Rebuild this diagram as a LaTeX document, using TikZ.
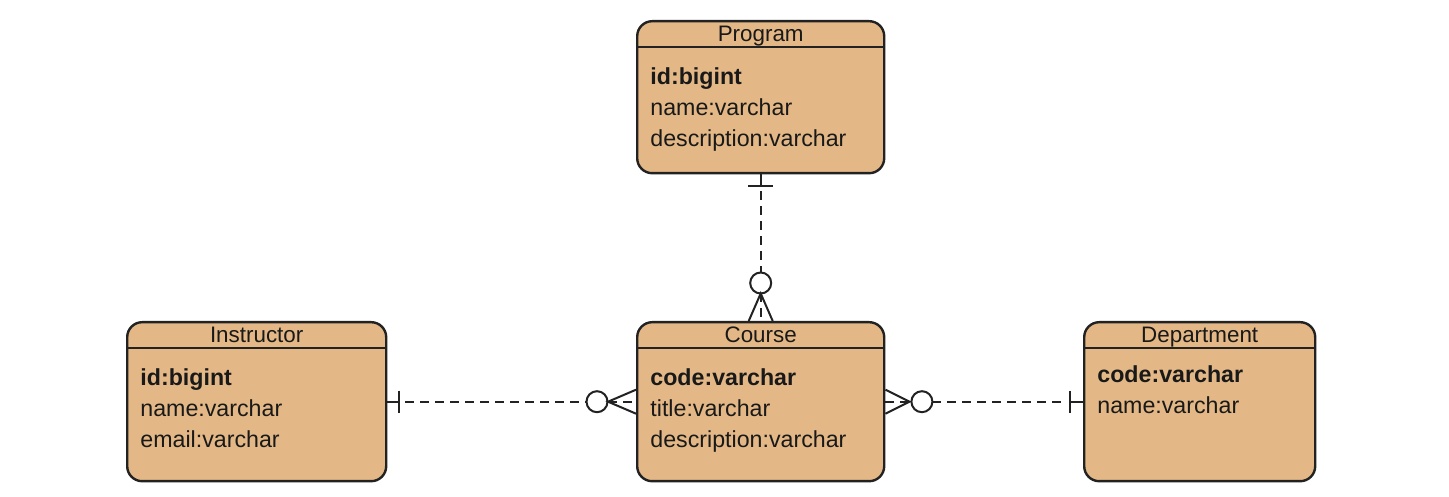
\documentclass[tikz,border=0pt]{standalone}
\usepackage{fontspec}
\setmainfont{Liberation Sans}
\usetikzlibrary{calc}
\definecolor{entfill}{RGB}{227,184,134}
\definecolor{entline}{RGB}{34,34,34}
\begin{document}
\begin{tikzpicture}[x=0.5pt,y=0.5pt,
  entity/.style={draw=entline, fill=entfill, line width=1.2pt, rounded corners=7.5pt, anchor=north west, inner sep=0pt},
  hdr/.style={draw=entline, line width=1.1pt},
  title/.style={anchor=base, inner sep=0pt, font=\fontsize{11.2}{13}\selectfont, text=black!90},
  attr/.style={anchor=base west, inner sep=0pt, font=\fontsize{11.6}{14}\selectfont, text=black!90},
  pk/.style={attr, font=\fontsize{11.6}{14}\selectfont\bfseries},
  conn/.style={draw=entline, line width=1pt},
  dashconn/.style={conn, dash pattern=on 4.5pt off 3pt}]
\useasboundingbox (0,0) rectangle (1449,497);

% entities
\node[entity, minimum width=123.5pt, minimum height=76pt] (prog) at (636,477) {};
\node[entity, minimum width=129.5pt, minimum height=79.5pt] (instr) at (126,176) {};
\node[entity, minimum width=123.5pt, minimum height=79.5pt] (course) at (636,176) {};
\node[entity, minimum width=115.5pt, minimum height=79.5pt] (dept) at (1083,176) {};

% header separators
\foreach \e in {prog,instr,course,dept}{
  \draw[hdr] ($(\e.north west)+(0,-27)$) -- ($(\e.north east)+(0,-27)$);
}

% titles
\node[title] (progT) at ($(prog.north)+(0,-21.5)$) {Program};
\node[title] (instrT) at ($(instr.north)+(0,-21.5)$) {Instructor};
\node[title] (courseT) at ($(course.north)+(0,-21.5)$) {Course};
\node[title] (deptT) at ($(dept.north)+(0,-21.5)$) {Department};

% attributes
\node[pk] (progA) at ($(prog.north west)+(14,-65)$) {id:bigint};
\node[attr] (progB) at ($(prog.north west)+(14,-96)$) {name:varchar};
\node[attr] (progC) at ($(prog.north west)+(14,-127)$) {description:varchar};

\node[pk] (instrA) at ($(instr.north west)+(14,-65)$) {id:bigint};
\node[attr] (instrB) at ($(instr.north west)+(14,-96)$) {name:varchar};
\node[attr] (instrC) at ($(instr.north west)+(14,-127)$) {email:varchar};

\node[pk] (courseA) at ($(course.north west)+(14,-65)$) {code:varchar};
\node[attr] (courseB) at ($(course.north west)+(14,-96)$) {title:varchar};
\node[attr] (courseC) at ($(course.north west)+(14,-127)$) {description:varchar};

\node[pk] (deptA) at ($(dept.north west)+(14,-62)$) {code:varchar};
\node[attr] (deptB) at ($(dept.north west)+(14,-93)$) {name:varchar};

% Program -- Course
\draw[conn] (prog.south) -- ($(prog.south)+(0,-12)$);
\draw[conn] ($(prog.south)+(-12.5,-12)$) -- ($(prog.south)+(12.5,-12)$);
\draw[dashconn] ($(prog.south)+(0,-17)$) -- ($(course.north)+(0,48.5)$);
\draw[conn] ($(course.north)+(0,38)$) circle[radius=10.5];
\draw[conn] ($(course.north)+(-12,0)$) -- ($(course.north)+(0,27.5)$) -- ($(course.north)+(12,0)$);
\draw[dashconn] ($(course.north)+(0,27.5)$) -- (course.north);

% Instructor -- Course
\draw[conn] (instr.east) -- ($(instr.east)+(12,0)$);
\draw[conn] ($(instr.east)+(12,11)$) -- ($(instr.east)+(12,-11)$);
\draw[dashconn] ($(instr.east)+(18,0)$) -- ($(course.west)+(-49.5,0)$);
\draw[conn] ($(course.west)+(-39,0)$) circle[radius=10.5];
\draw[conn] ($(course.west)+(0,12)$) -- ($(course.west)+(-28,0)$) -- ($(course.west)+(0,-12)$);
\draw[dashconn] ($(course.west)+(-28,0)$) -- (course.west);

% Course -- Department
\draw[conn] ($(course.east)+(0,12)$) -- ($(course.east)+(24,0)$) -- ($(course.east)+(0,-12)$);
\draw[dashconn] (course.east) -- ($(course.east)+(24,0)$);
\draw[conn] ($(course.east)+(36.5,0)$) circle[radius=10.5];
\draw[dashconn] ($(course.east)+(47,0)$) -- ($(dept.west)+(-18,0)$);
\draw[conn] ($(dept.west)+(-13,11)$) -- ($(dept.west)+(-13,-11)$);
\draw[conn] ($(dept.west)+(-13,0)$) -- (dept.west);
\end{tikzpicture}
\end{document}
